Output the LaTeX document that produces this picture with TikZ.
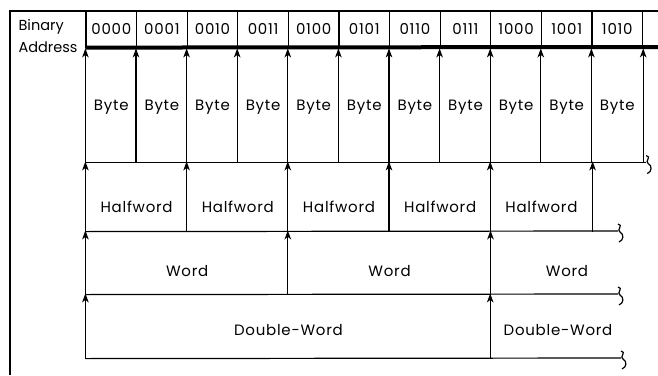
\documentclass[tikz,border=0pt]{standalone}
\usepackage{fontspec}
\setmainfont{Poppins}[LetterSpace=5]
\usepackage{tikz}
\usetikzlibrary{arrows.meta}

\tikzset{
  brk/.pic={\draw (0,-7) .. controls (6,-6) and (-2,-1) .. (2,1) .. controls (6,3) and (6,9) .. (1,11);}
}

\begin{document}
\begin{tikzpicture}[x=1pt,y=-1pt,line width=1.2pt,
  font=\fontsize{15}{18}\selectfont,
  cell/.style={inner sep=0pt,text depth=0pt},
  addr/.style={cell,draw,minimum width=50.6pt,minimum height=36pt,node distance=50.6pt,text height=10.5pt},
  byte/.style={cell,minimum width=50.6pt,minimum height=113pt,node distance=50.6pt,text height=10.5pt},
  half/.style={cell,minimum width=101.2pt,minimum height=69pt,node distance=101.2pt,text height=31.5pt},
  word/.style={cell,minimum width=202.4pt,minimum height=63pt,node distance=202.4pt,text height=28.5pt},
  dword/.style={cell,minimum width=404.8pt,minimum height=64pt,text height=19.5pt},
  arr/.style={-{Stealth[length=9pt,width=6.5pt,inset=2.5pt]}}]
\useasboundingbox (0,0) rectangle (658,375);

% frame and heading
\coordinate (fbl) at (10,375);
\coordinate (ftl) at (10,11);
\coordinate (ftr) at (658,11);
\coordinate (barend) at (658,47);
\draw (fbl) -- (ftl) -- (ftr);
\node[align=left,anchor=north west,inner sep=0pt,font=\fontsize{14.5}{22}\selectfont\addfontfeature{LetterSpace=0}] (head) at (18,19) {Binary\\Address};

% address row
\node[addr] (a0000) at (111.3,29) {0000};
\node[addr] (a0001) [right of=a0000] {0001};
\node[addr] (a0010) [right of=a0001] {0010};
\node[addr] (a0011) [right of=a0010] {0011};
\node[addr] (a0100) [right of=a0011] {0100};
\node[addr] (a0101) [right of=a0100] {0101};
\node[addr] (a0110) [right of=a0101] {0110};
\node[addr] (a0111) [right of=a0110] {0111};
\node[addr] (a1000) [right of=a0111] {1000};
\node[addr] (a1001) [right of=a1000] {1001};
\node[addr] (a1010) [right of=a1001] {1010};
\draw[line width=4pt] (a0000.south west) -- (barend);

% bytes
\node[byte] (b0000) at (111.3,105.5) {Byte};
\node[byte] (b0001) [right of=b0000] {Byte};
\node[byte] (b0010) [right of=b0001] {Byte};
\node[byte] (b0011) [right of=b0010] {Byte};
\node[byte] (b0100) [right of=b0011] {Byte};
\node[byte] (b0101) [right of=b0100] {Byte};
\node[byte] (b0110) [right of=b0101] {Byte};
\node[byte] (b0111) [right of=b0110] {Byte};
\node[byte] (b1000) [right of=b0111] {Byte};
\node[byte] (b1001) [right of=b1000] {Byte};
\node[byte] (b1010) [right of=b1001] {Byte};

% halfwords
\node[half] (h0) at (136.6,196.5) {Halfword};
\node[half] (h1) [right of=h0] {Halfword};
\node[half] (h2) [right of=h1] {Halfword};
\node[half] (h3) [right of=h2] {Halfword};
\node[half] (h4) [right of=h3] {Halfword};
\coordinate (hend) at (618,231);

% words
\node[word] (w0) at (187.2,262.5) {Word};
\node[word] (w1) [right of=w0] {Word};
\node[word] (w2) [minimum width=151.8pt,node distance=177.4pt,right of=w1] {Word};
\coordinate (wend) at (618,294);

% double-words
\node[dword] (d0) at (288.4,326) {Double-Word};
\node[dword] (d1) [minimum width=134.4pt,node distance=269.6pt,right of=d0] {Double-Word};
\coordinate (dend) at (621,358);

% bottom lines
\draw (b0000.south west) -- (b1010.south east) -- ++(3,0) pic {brk};
\draw (h0.south west) -- (hend) pic {brk};
\draw (w0.south west) -- (wend) pic {brk};
\draw (d0.south west) -- (dend) pic {brk};

% boundaries
\path[arr]
(b0000.south west) edge (b0000.north west)
(b0001.south west) edge (b0001.north west)
(b0010.south west) edge (b0010.north west)
(b0011.south west) edge (b0011.north west)
(b0100.south west) edge (b0100.north west)
(b0101.south west) edge (b0101.north west)
(b0110.south west) edge (b0110.north west)
(b0111.south west) edge (b0111.north west)
(b1000.south west) edge (b1000.north west)
(b1001.south west) edge (b1001.north west)
(b1010.south west) edge (b1010.north west)
(b1010.south east) edge (b1010.north east)
(h0.south west) edge (h0.north west)
(h1.south west) edge (h1.north west)
(h2.south west) edge (h2.north west)
(h3.south west) edge (h3.north west)
(h4.south west) edge (h4.north west)
(h4.south east) edge (h4.north east)
(w0.south west) edge (w0.north west)
(w1.south west) edge (w1.north west)
(w2.south west) edge (w2.north west)
(d0.south west) edge (d0.north west)
(d1.south west) edge (d1.north west);
\end{tikzpicture}
\end{document}
